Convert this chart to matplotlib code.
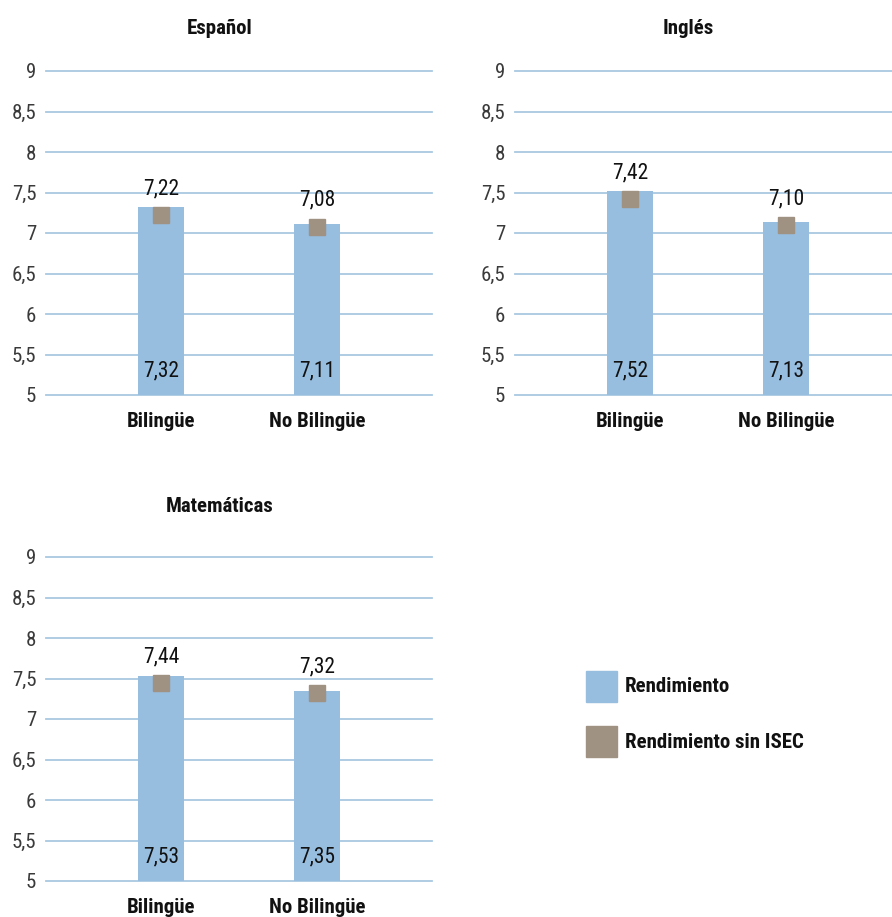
import numpy as np
import matplotlib
matplotlib.use("Agg")
import matplotlib.pyplot as plt
from matplotlib.patches import Rectangle

plt.rcParams['font.family'] = ['Roboto Condensed', 'Liberation Sans Narrow', 'Roboto', 'DejaVu Sans']

# data
subjects = ['Español', 'Inglés', 'Matemáticas']
groups = ['Bilingüe', 'No Bilingüe']
rend = [[7.32, 7.11], [7.52, 7.13], [7.53, 7.35]]
rend_sin_isec = [[7.22, 7.08], [7.42, 7.10], [7.44, 7.32]]
yticks = [5, 5.5, 6, 6.5, 7, 7.5, 8, 8.5, 9]
ytick_labels = ['5', '5,5', '6', '6,5', '7', '7,5', '8', '8,5', '9']

bar_col = '#97bddf'
sq_col = '#a09282'
grid_col = '#a9c8e2'

W, H = 892, 917
fig = plt.figure(figsize=(W / 100, H / 100), dpi=100)

def fmt(v):
    return ('%.2f' % v).replace('.', ',')

# axes boxes in pixels: left, top, right, bottom
boxes = [(46, 71, 432, 395), (515, 71, 901, 395), (46, 557, 432, 881)]
title_pos = [(220, 28), (688, 28), (220, 507)]

for k, (l, t, r, b) in enumerate(boxes):
    ax = fig.add_axes([l / W, 1 - b / H, (r - l) / W, (b - t) / H])
    x = np.arange(len(groups))
    ax.set_xlim(-0.737, 1.737)
    ax.set_ylim(5, 9)
    for y in yticks:
        ax.axhline(y, color=grid_col, lw=1.3, zorder=0, clip_on=False)
    ax.bar(x, [v - 5 for v in rend[k]], bottom=5, width=0.295, color=bar_col, zorder=2)
    ax.plot(x, rend_sin_isec[k], 's', ms=11.5, color=sq_col, zorder=3)
    for i in range(len(groups)):
        ax.annotate(fmt(rend_sin_isec[k][i]), (x[i], rend_sin_isec[k][i]),
                    xytext=(0, 19), textcoords='offset points', ha='center', va='center',
                    fontsize=15.5, color='#111111', zorder=4)
        ax.annotate(fmt(rend[k][i]), (x[i], 5), xytext=(0, 17.5), textcoords='offset points',
                    ha='center', va='center', fontsize=15.5, color='#111111', zorder=4)
    ax.set_yticks(yticks)
    ax.set_yticklabels(ytick_labels, fontsize=15, color='#3a3a3a')
    ax.set_xticks(x)
    ax.set_xticklabels(groups, fontsize=15, fontweight='bold', color='#111111')
    ax.tick_params(axis='both', length=0)
    ax.tick_params(axis='y', pad=7)
    ax.tick_params(axis='x', pad=12)
    for s in ax.spines.values():
        s.set_visible(False)
    ax.patch.set_alpha(0)
    fig.text(title_pos[k][0] / W, 1 - title_pos[k][1] / H, subjects[k], ha='center', va='center',
             fontsize=15, fontweight='bold', color='#111111')

# legend
leg_items = [('Rendimiento', bar_col, 671), ('Rendimiento sin ISEC', sq_col, 726)]
for label, col, top in leg_items:
    fig.patches.append(Rectangle((586 / W, 1 - (top + 31) / H), 31 / W, 31 / H,
                                 transform=fig.transFigure, color=col, figure=fig))
    fig.text(625 / W, 1 - (top + 16) / H, label, ha='left', va='center', fontsize=15,
             fontweight='bold', color='#111111')

fig.savefig('out.png', dpi=100)
